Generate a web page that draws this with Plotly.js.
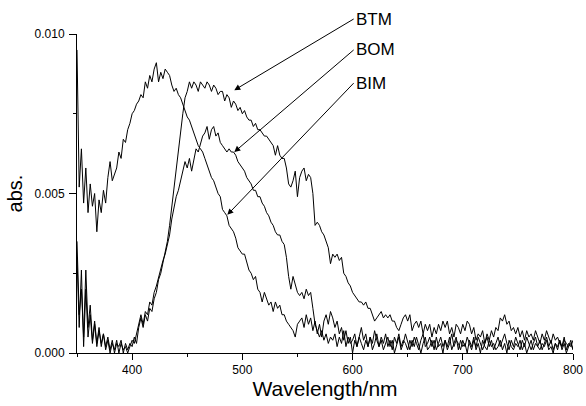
<!DOCTYPE html>
<html>
<head>
<meta charset="utf-8">
<script src="https://cdn.plot.ly/plotly-3.0.1.min.js"></script>
<style>
html,body{margin:0;padding:0;background:#fff;}
#chart{width:586px;height:406px;}
</style>
</head>
<body>
<div id="chart"></div>
<script>
// Wavelength sampling grid (nm): 350 to 800 every 2 nm
const wlStart = 350;
const wlStep = 2;

// Series values (abs.), one value per 2 nm from 350 nm to 800 nm
const BTM = [
  0.0035,0.0012,0.0020,0.0005,0.0026,0.0008,0.0015,0.0004,0.0010,0.0003,
  0.0008,0.0002,0.0006,0.0002,0.0005,0.0001,0.0004,0.0000,0.0003,0.0002,
  0.0004,0.0000,0.0003,0.0001,0.0003,0.0002,0.0005,0.0003,0.0008,0.0011,
  0.0008,0.0012,0.0010,0.0014,0.0013,0.0017,0.0019,0.0023,0.0025,0.0028,
  0.0032,0.0035,0.0040,0.0046,0.0052,0.0058,0.0064,0.0070,0.0075,0.0080,
  0.0082,0.0085,0.0083,0.0085,0.0084,0.0082,0.0085,0.0084,0.0083,0.0085,
  0.0084,0.0082,0.0084,0.0083,0.0081,0.0082,0.0082,0.0079,0.0081,0.0080,
  0.0077,0.0079,0.0078,0.0076,0.0077,0.0075,0.0076,0.0074,0.0073,0.0073,
  0.0071,0.0072,0.0070,0.0070,0.0069,0.0068,0.0068,0.0067,0.0066,0.0065,
  0.0062,0.0065,0.0062,0.0061,0.0061,0.0058,0.0053,0.0052,0.0054,0.0057,
  0.0049,0.0055,0.0057,0.0058,0.0054,0.0056,0.0055,0.0050,0.0040,0.0041,
  0.0040,0.0038,0.0037,0.0035,0.0033,0.0028,0.0031,0.0030,0.0031,0.0029,
  0.0030,0.0025,0.0024,0.0022,0.0021,0.0019,0.0018,0.0017,0.0016,0.0016,
  0.0015,0.0016,0.0014,0.0014,0.0012,0.0010,0.0011,0.0012,0.0013,0.0011,
  0.0012,0.0011,0.0012,0.0010,0.0010,0.0008,0.0007,0.0009,0.0011,0.0012,
  0.0010,0.0012,0.0007,0.0009,0.0010,0.0008,0.0010,0.0006,0.0009,0.0007,
  0.0009,0.0005,0.0008,0.0006,0.0009,0.0007,0.0010,0.0008,0.0010,0.0006,
  0.0008,0.0005,0.0009,0.0008,0.0006,0.0009,0.0007,0.0010,0.0009,0.0006,
  0.0008,0.0004,0.0006,0.0005,0.0007,0.0003,0.0006,0.0004,0.0007,0.0005,
  0.0008,0.0007,0.0011,0.0010,0.0012,0.0009,0.0010,0.0007,0.0008,0.0006,
  0.0008,0.0005,0.0007,0.0004,0.0007,0.0005,0.0006,0.0004,0.0007,0.0005,
  0.0003,0.0006,0.0004,0.0007,0.0005,0.0003,0.0006,0.0004,0.0005,0.0003,
  0.0002,0.0004,0.0003,0.0002,0.0004,0.0001
];

const BOM = [
  0.0030,0.0008,0.0026,0.0002,0.0020,0.0005,0.0012,0.0003,0.0009,0.0002,
  0.0007,0.0003,0.0006,0.0001,0.0004,0.0000,0.0003,0.0001,0.0004,0.0000,
  0.0003,0.0001,0.0002,0.0000,0.0002,0.0004,0.0003,0.0006,0.0009,0.0012,
  0.0009,0.0013,0.0012,0.0016,0.0015,0.0019,0.0021,0.0024,0.0026,0.0029,
  0.0031,0.0034,0.0037,0.0042,0.0046,0.0049,0.0051,0.0054,0.0057,0.0060,
  0.0058,0.0061,0.0057,0.0060,0.0064,0.0063,0.0066,0.0068,0.0069,0.0071,
  0.0067,0.0070,0.0071,0.0068,0.0069,0.0066,0.0065,0.0064,0.0063,0.0064,
  0.0063,0.0063,0.0062,0.0060,0.0059,0.0058,0.0057,0.0055,0.0054,0.0053,
  0.0051,0.0051,0.0049,0.0049,0.0047,0.0046,0.0044,0.0043,0.0041,0.0040,
  0.0038,0.0037,0.0037,0.0035,0.0034,0.0030,0.0024,0.0020,0.0024,0.0021,
  0.0019,0.0018,0.0019,0.0017,0.0020,0.0018,0.0019,0.0014,0.0009,0.0007,
  0.0005,0.0007,0.0004,0.0006,0.0003,0.0005,0.0004,0.0006,0.0002,0.0005,
  0.0003,0.0007,0.0002,0.0005,0.0003,0.0004,0.0006,0.0002,0.0005,0.0008,
  0.0004,0.0006,0.0002,0.0005,0.0003,0.0007,0.0004,0.0002,0.0005,0.0003,
  0.0006,0.0002,0.0004,0.0001,0.0005,0.0003,0.0006,0.0002,0.0004,0.0003,
  0.0001,0.0004,0.0002,0.0005,0.0003,0.0001,0.0004,0.0006,0.0002,0.0003,
  0.0005,0.0002,0.0004,0.0001,0.0003,0.0005,0.0002,0.0004,0.0001,0.0003,
  0.0006,0.0002,0.0004,0.0003,0.0001,0.0004,0.0002,0.0005,0.0003,0.0001,
  0.0004,0.0002,0.0005,0.0003,0.0001,0.0003,0.0005,0.0002,0.0004,0.0001,
  0.0003,0.0005,0.0002,0.0004,0.0006,0.0003,0.0001,0.0004,0.0002,0.0005,
  0.0003,0.0001,0.0004,0.0002,0.0005,0.0003,0.0001,0.0003,0.0005,0.0002,
  0.0004,0.0001,0.0003,0.0005,0.0002,0.0004,0.0001,0.0003,0.0002,0.0004,
  0.0002,0.0005,0.0001,0.0003,0.0002,0.0004
];

const BIM = [
  0.0095,0.0052,0.0064,0.0047,0.0058,0.0044,0.0053,0.0046,0.0050,0.0038,
  0.0048,0.0044,0.0051,0.0047,0.0055,0.0060,0.0054,0.0056,0.0058,0.0063,
  0.0061,0.0067,0.0066,0.0070,0.0072,0.0075,0.0076,0.0078,0.0079,0.0081,
  0.0080,0.0085,0.0083,0.0087,0.0085,0.0089,0.0091,0.0085,0.0088,0.0086,
  0.0089,0.0088,0.0087,0.0084,0.0082,0.0083,0.0081,0.0080,0.0078,0.0076,
  0.0074,0.0073,0.0071,0.0069,0.0067,0.0065,0.0064,0.0063,0.0061,0.0059,
  0.0057,0.0055,0.0054,0.0052,0.0050,0.0049,0.0045,0.0044,0.0043,0.0040,
  0.0039,0.0038,0.0036,0.0033,0.0032,0.0031,0.0031,0.0028,0.0026,0.0025,
  0.0023,0.0024,0.0020,0.0019,0.0016,0.0019,0.0017,0.0015,0.0016,0.0013,
  0.0016,0.0014,0.0015,0.0012,0.0012,0.0010,0.0009,0.0008,0.0007,0.0005,
  0.0009,0.0010,0.0011,0.0008,0.0012,0.0009,0.0011,0.0007,0.0010,0.0006,
  0.0009,0.0005,0.0010,0.0012,0.0009,0.0013,0.0011,0.0008,0.0010,0.0006,
  0.0008,0.0004,0.0007,0.0003,0.0005,0.0000,0.0004,0.0002,0.0005,0.0003,
  0.0001,0.0004,0.0002,0.0005,0.0001,0.0003,0.0006,0.0002,0.0004,0.0001,
  0.0003,0.0005,0.0002,0.0004,0.0000,0.0003,0.0005,0.0001,0.0003,0.0006,
  0.0003,0.0001,0.0004,0.0002,0.0005,0.0002,0.0000,0.0003,0.0005,0.0001,
  0.0002,0.0004,0.0001,0.0005,0.0002,0.0003,0.0000,0.0004,0.0002,0.0005,
  0.0001,0.0003,0.0005,0.0001,0.0004,0.0002,0.0003,0.0000,0.0004,0.0002,
  0.0005,0.0001,0.0003,0.0000,0.0004,0.0002,0.0001,0.0004,0.0002,0.0003,
  0.0001,0.0002,0.0004,0.0001,0.0003,0.0000,0.0004,0.0002,0.0001,0.0003,
  0.0002,0.0004,0.0001,0.0003,0.0000,0.0002,0.0004,0.0001,0.0003,0.0002,
  0.0001,0.0003,0.0002,0.0004,0.0001,0.0002,0.0000,0.0003,0.0001,0.0004,
  0.0001,0.0003,0.0000,0.0002,0.0003,0.0001
];

// Series names and label placement (label anchor -> arrow tip), data units
const seriesNames = ['BTM', 'BOM', 'BIM'];
const seriesData = [BTM, BOM, BIM];
const labelPos = [[601, 0.01047], [601, 0.00950], [601, 0.00846]];
const arrowTip = [[492.7, 0.00824], [492.7, 0.00630], [486.4, 0.00433]];

// Axis ticks
const xTicks = [400, 500, 600, 700, 800];
const yTicks = [0.000, 0.005, 0.010];
const yTickText = ['0.000', '0.005', '0.010'];

const FONT = 'Liberation Sans, Arial, Helvetica, sans-serif';

const traces = seriesData.map((vals, k) => ({
  type: 'scatter',
  mode: 'lines',
  name: seriesNames[k],
  x: vals.map((_, i) => wlStart + wlStep * i),
  y: vals,
  line: {color: '#000', width: 1},
  hoverinfo: 'skip'
}));

const annotations = seriesNames.map((nm, k) => ({
  text: nm,
  x: arrowTip[k][0], y: arrowTip[k][1], xref: 'x', yref: 'y',
  ax: labelPos[k][0], ay: labelPos[k][1], axref: 'x', ayref: 'y',
  xanchor: 'left', yanchor: 'middle',
  showarrow: true, arrowhead: 2, arrowsize: 1.2, arrowwidth: 1, arrowcolor: '#000',
  standoff: 0, startstandoff: 0,
  font: {family: FONT, size: 17, color: '#000'}
}));

const layout = {
  width: 586, height: 406,
  margin: {l: 77, r: 13, t: 34, b: 53, pad: 0},
  paper_bgcolor: '#fff', plot_bgcolor: '#fff',
  showlegend: false,
  font: {family: FONT, color: '#000', size: 12},
  xaxis: {
    range: [350, 800],
    tickvals: xTicks,
    ticktext: xTicks.map(String),
    ticks: 'outside', ticklen: 6, tickwidth: 1, tickcolor: '#000',
    minor: {dtick: 50, tick0: 350, ticks: 'outside', ticklen: 3, tickcolor: '#000', showgrid: false},
    showline: true, linecolor: '#000', linewidth: 1, mirror: false,
    showgrid: false, zeroline: false,
    tickfont: {family: FONT, size: 12, color: '#000'},
    title: {text: 'Wavelength/nm', font: {family: FONT, size: 21, color: '#000'}, standoff: 4}
  },
  yaxis: {
    range: [0, 0.010],
    tickvals: yTicks,
    ticktext: yTickText,
    ticks: 'outside', ticklen: 7, tickwidth: 1, tickcolor: '#000',
    ticklabelstandoff: 2,
    minor: {dtick: 0.0025, tick0: 0, ticks: 'outside', ticklen: 3, tickcolor: '#000', showgrid: false},
    showline: true, linecolor: '#000', linewidth: 1, mirror: false,
    showgrid: false, zeroline: false,
    tickfont: {family: FONT, size: 12, color: '#000'},
    title: {text: 'abs.', font: {family: FONT, size: 20, color: '#000'}, standoff: 6}
  },
  annotations: annotations
};

Plotly.newPlot('chart', traces, layout, {displayModeBar: false, staticPlot: true});
</script>
</body>
</html>
